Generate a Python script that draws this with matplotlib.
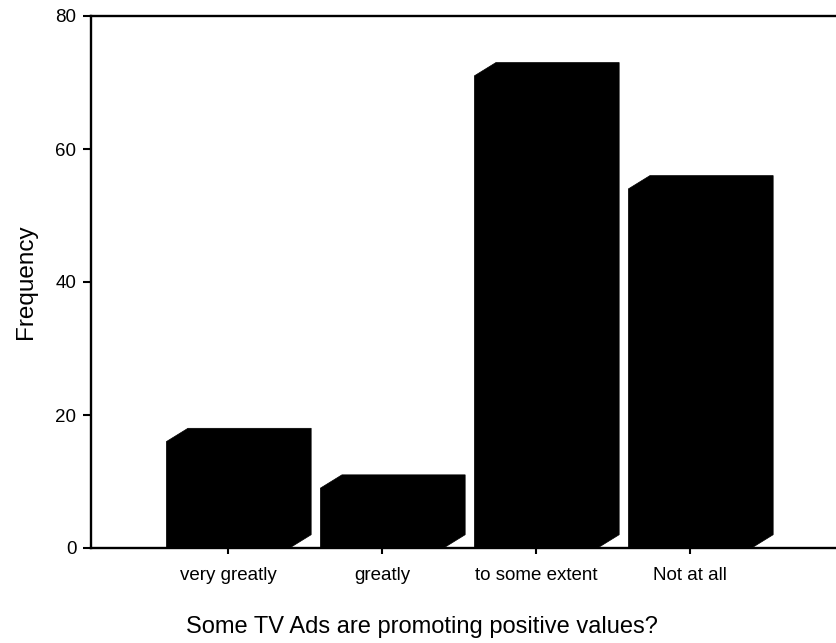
import matplotlib
matplotlib.use("Agg")
import matplotlib.pyplot as plt
from matplotlib.patches import Polygon

plt.rcParams['font.family'] = ['Liberation Sans', 'DejaVu Sans']

# survey answers and their counts
categories = ['very greatly', 'greatly', 'to some extent', 'Not at all']
frequency = [16, 9, 71, 54]
y_ticks = [0, 20, 40, 60, 80]

# 3d box look: half width of front face, depth offset in x and y
half_w = 0.40
depth_x = 0.14
depth_y = 2.0

fig = plt.figure(figsize=(8.37, 6.43), dpi=100)
ax = fig.add_axes([91/837, 95/643, 746/837, 532/643])

for i, v in enumerate(frequency):
    xl = i - half_w
    xr = i + half_w
    pts = [(xl, 0), (xl, v), (xl + depth_x, v + depth_y),
           (xr + depth_x, v + depth_y), (xr + depth_x, depth_y), (xr, 0)]
    ax.add_patch(Polygon(pts, closed=True, facecolor='black',
                         edgecolor='black', linewidth=0.5, zorder=3))

ax.set_xlim(-0.8896, -0.8896 + 746/154)
ax.set_ylim(0, 80)
ax.set_xticks(range(len(categories)))
ax.set_xticklabels(categories, fontsize=13.5)
ax.set_yticks(y_ticks)
ax.set_yticklabels([str(t) for t in y_ticks], fontsize=13.5)

ax.spines['right'].set_visible(False)
for s in ['top', 'left', 'bottom']:
    ax.spines[s].set_linewidth(1.7)
    ax.spines[s].set_zorder(4)

ax.tick_params(axis='y', direction='out', length=6, width=1.5, pad=4.5)
ax.tick_params(axis='x', direction='out', length=4.5, width=1.5, pad=9)

ax.set_ylabel('Frequency', fontsize=17.5)
ax.yaxis.set_label_coords(-0.073, 0.5)
ax.set_xlabel('Some TV Ads are promoting positive values?', fontsize=17)
ax.xaxis.set_label_coords(0.4437, -0.128)

fig.savefig('out.png', dpi=100)
